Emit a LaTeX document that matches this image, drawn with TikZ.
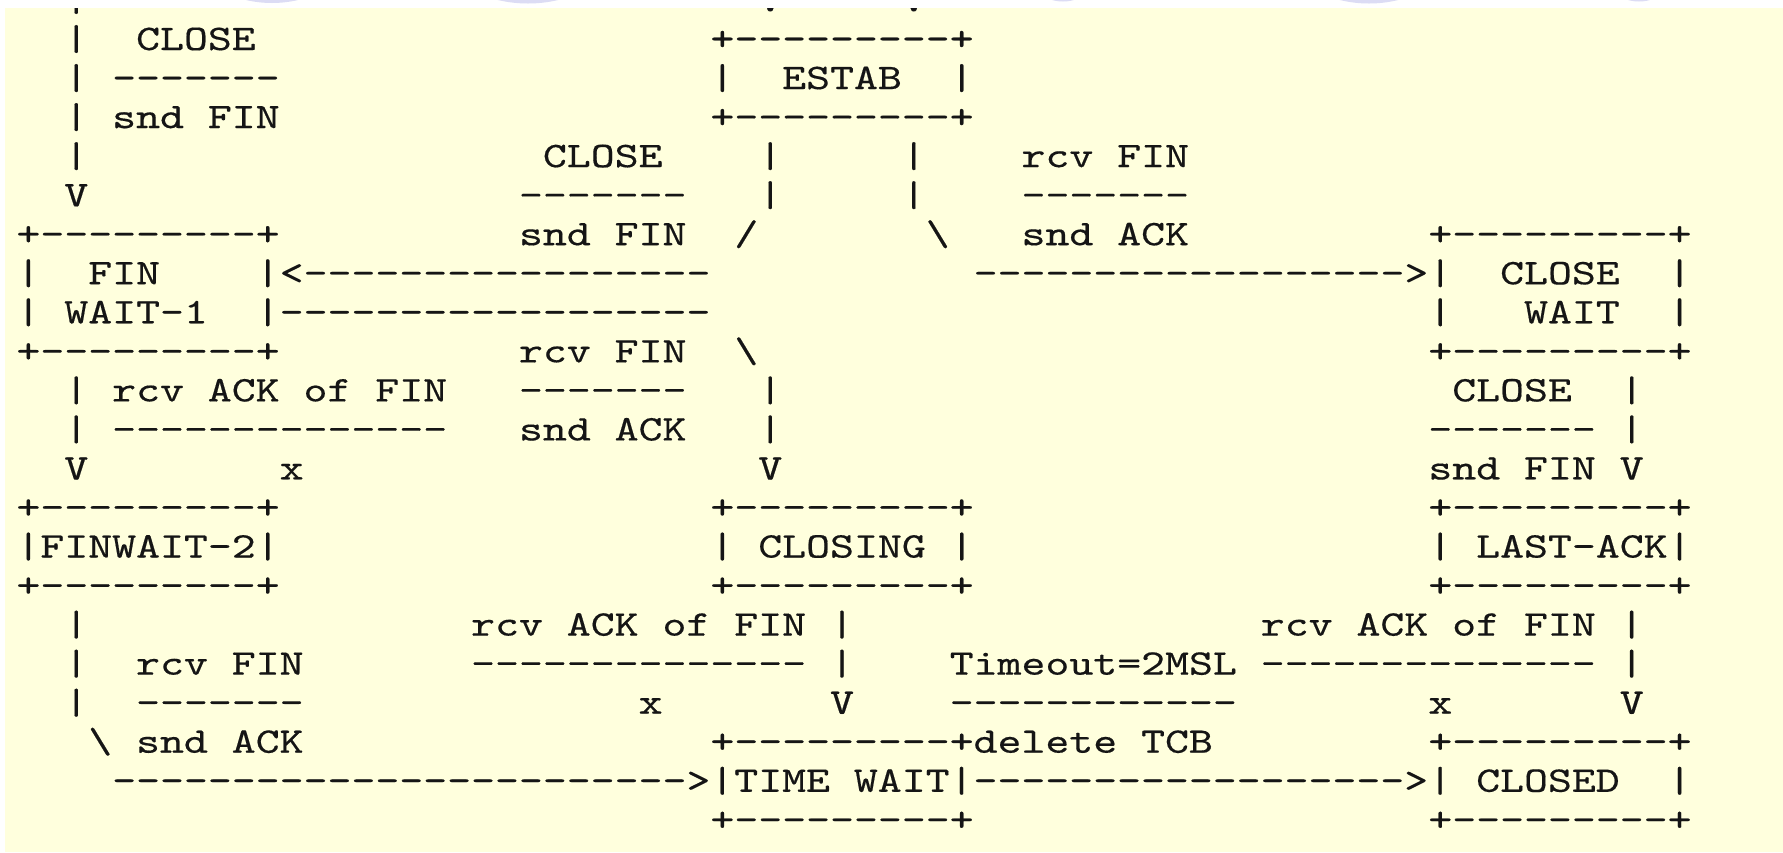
\documentclass[tikz,border=0pt]{standalone}
\usepackage{fontspec}
% typewriter face, widened so that each character cell is 23.93 units wide
\newfontfamily\asciifont{lmmono10-regular.otf}[FakeStretch=1.266,FakeBold=0.4,WordSpace={1,0,0}]
\definecolor{paper}{HTML}{FFFFDD}
\definecolor{ink}{HTML}{151515}
\definecolor{wm}{RGB}{220,220,244}
% a run of characters starting at column #2 of text line #3
\newcommand\glyphs[4]{\node[ascii] (#1) at ({-7.465+23.93*#2},{10.96+39.04*#3}) {#4};}
\begin{document}
\begin{tikzpicture}[x=0.5pt,y=-0.5pt,
  ascii/.style={anchor=base west,inner sep=0pt,outer sep=0pt,text=ink,
    font={\asciifont\fontsize{18pt}{18pt}\selectfont}}]
\useasboundingbox (0,0) rectangle (1783,852);
\fill[white] (0,0) rectangle (1783,852);
% faint marks in the white strip along the top
\begin{scope}
  \clip (0,0) rectangle (1783,8);
  \fill[wm] (272,-111) circle[radius=114];
  \fill[wm] (528,-126.5) circle[radius=130];
  \fill[wm] (1063,-39.5) circle[radius=41];
  \fill[wm] (1369,-118.5) circle[radius=122];
  \fill[wm] (1639,-39.5) circle[radius=41];
\end{scope}
\fill[paper] (4.5,8) rectangle (1783,852);
\begin{scope}
\clip (4.5,8) rectangle (1783,852);
% line 0
\glyphs{r0a}{3}{0}{|}
\glyphs{r0b}{32}{0}{V}
\glyphs{r0c}{38}{0}{V}
% line 1
\glyphs{r1a}{3}{1}{|}
\glyphs{r1b}{6}{1}{CLOSE}
\glyphs{r1c}{30}{1}{+---------+}
% line 2
\glyphs{r2a}{3}{2}{|}
\glyphs{r2b}{5}{2}{-------}
\glyphs{r2c}{30}{2}{|}
\glyphs{r2d}{33}{2}{ESTAB}
\glyphs{r2e}{40}{2}{|}
% line 3
\glyphs{r3a}{3}{3}{|}
\glyphs{r3b}{5}{3}{snd FIN}
\glyphs{r3c}{30}{3}{+---------+}
% line 4
\glyphs{r4a}{3}{4}{|}
\glyphs{r4b}{23}{4}{CLOSE}
\glyphs{r4c}{32}{4}{|}
\glyphs{r4d}{38}{4}{|}
\glyphs{r4e}{43}{4}{rcv FIN}
% line 5
\glyphs{r5a}{3}{5}{V}
\glyphs{r5b}{22}{5}{-------}
\glyphs{r5c}{32}{5}{|}
\glyphs{r5d}{38}{5}{|}
\glyphs{r5e}{43}{5}{-------}
% line 6
\glyphs{r6a}{1}{6}{+---------+}
\glyphs{r6b}{22}{6}{snd FIN}
\glyphs{r6c}{31}{6}{/}
\glyphs{r6d}{39}{6}{\textbackslash}
\glyphs{r6e}{43}{6}{snd ACK}
\glyphs{r6f}{60}{6}{+---------+}
% line 7
\glyphs{r7a}{1}{7}{|}
\glyphs{r7b}{4}{7}{FIN}
\glyphs{r7c}{11}{7}{|<-----------------}
\glyphs{r7d}{41}{7}{------------------>|}
\glyphs{r7e}{63}{7}{CLOSE}
\glyphs{r7f}{70}{7}{|}
% line 8
\glyphs{r8a}{1}{8}{|}
\glyphs{r8b}{3}{8}{WAIT-1}
\glyphs{r8c}{11}{8}{|------------------}
\glyphs{r8d}{60}{8}{|}
\glyphs{r8e}{64}{8}{WAIT}
\glyphs{r8f}{70}{8}{|}
% line 9
\glyphs{r9a}{1}{9}{+---------+}
\glyphs{r9b}{22}{9}{rcv FIN}
\glyphs{r9c}{31}{9}{\textbackslash}
\glyphs{r9d}{60}{9}{+---------+}
% line 10
\glyphs{r10a}{3}{10}{|}
\glyphs{r10b}{5}{10}{rcv ACK of FIN}
\glyphs{r10c}{22}{10}{-------}
\glyphs{r10d}{32}{10}{|}
\glyphs{r10e}{61}{10}{CLOSE}
\glyphs{r10f}{68}{10}{|}
% line 11
\glyphs{r11a}{3}{11}{|}
\glyphs{r11b}{5}{11}{--------------}
\glyphs{r11c}{22}{11}{snd ACK}
\glyphs{r11d}{32}{11}{|}
\glyphs{r11e}{60}{11}{-------}
\glyphs{r11f}{68}{11}{|}
% line 12
\glyphs{r12a}{3}{12}{V}
\glyphs{r12b}{12}{12}{x}
\glyphs{r12c}{32}{12}{V}
\glyphs{r12d}{60}{12}{snd FIN V}
% line 13
\glyphs{r13a}{1}{13}{+---------+}
\glyphs{r13b}{30}{13}{+---------+}
\glyphs{r13c}{60}{13}{+---------+}
% line 14
\glyphs{r14a}{1}{14}{|FINWAIT-2|}
\glyphs{r14b}{30}{14}{|}
\glyphs{r14c}{32}{14}{CLOSING}
\glyphs{r14d}{40}{14}{|}
\glyphs{r14e}{60}{14}{|}
\glyphs{r14f}{62}{14}{LAST-ACK|}
% line 15
\glyphs{r15a}{1}{15}{+---------+}
\glyphs{r15b}{30}{15}{+---------+}
\glyphs{r15c}{60}{15}{+---------+}
% line 16
\glyphs{r16a}{3}{16}{|}
\glyphs{r16b}{20}{16}{rcv ACK of FIN |}
\glyphs{r16c}{53}{16}{rcv ACK of FIN |}
% line 17
\glyphs{r17a}{3}{17}{|}
\glyphs{r17b}{6}{17}{rcv FIN}
\glyphs{r17c}{20}{17}{-------------- |}
\glyphs{r17d}{40}{17}{Timeout=2MSL -------------- |}
% line 18
\glyphs{r18a}{3}{18}{|}
\glyphs{r18b}{6}{18}{-------}
\glyphs{r18c}{27}{18}{x}
\glyphs{r18d}{35}{18}{V}
\glyphs{r18e}{40}{18}{------------}
\glyphs{r18f}{60}{18}{x}
\glyphs{r18g}{68}{18}{V}
% line 19
\glyphs{r19a}{4}{19}{\textbackslash{} snd ACK}
\glyphs{r19b}{30}{19}{+---------+delete TCB}
\glyphs{r19c}{60}{19}{+---------+}
% line 20
\glyphs{r20a}{5}{20}{------------------------>|TIME WAIT|------------------>|}
\glyphs{r20b}{62}{20}{CLOSED}
\glyphs{r20c}{70}{20}{|}
% line 21
\glyphs{r21a}{30}{21}{+---------+}
\glyphs{r21b}{60}{21}{+---------+}
\end{scope}
\end{tikzpicture}
\end{document}
